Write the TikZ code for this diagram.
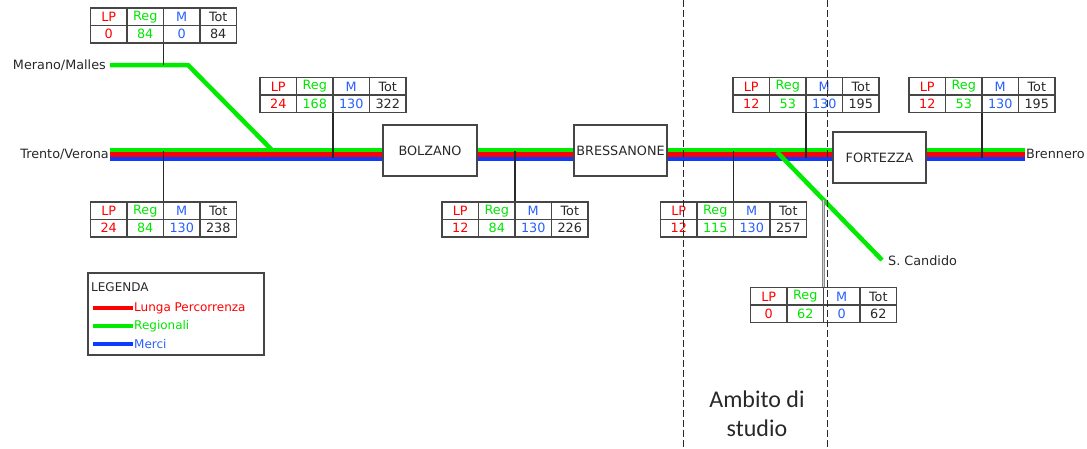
\documentclass[tikz,border=0pt]{standalone}
\usepackage{fontspec}
\setmainfont{DejaVu Sans}
\newfontfamily\calibri{Carlito}
\usetikzlibrary{calc}

\definecolor{lpred}{RGB}{255,0,0}
\definecolor{reggreen}{RGB}{0,230,0}
\definecolor{mblue}{RGB}{40,95,255}
\definecolor{railred}{RGB}{255,0,0}
\definecolor{railgreen}{RGB}{0,235,0}
\definecolor{railblue}{RGB}{10,60,255}
\definecolor{framegray}{RGB}{70,70,70}
\definecolor{inkgray}{RGB}{40,40,40}

\tikzset{
  lbl/.style={font=\fontsize{12.8}{14}\selectfont, text=inkgray, inner sep=1pt},
  cell/.style={font=\fontsize{12.8}{14}\selectfont, inner sep=0pt},
  tabframe/.style={draw=framegray, line width=1.5, minimum width=146, minimum height=35, inner sep=0pt},
  tabgrid/.style={draw=framegray, line width=1.5},
  station/.style={draw=framegray, line width=1.4, minimum height=51, inner sep=0pt,
    font=\fontsize{12.8}{14}\selectfont, text=inkgray},
  tick/.style={draw=inkgray, line width=1.3},
  rail/.style={line width=4.5},
  rg/.style={rail, draw=railgreen},
  rr/.style={rail, draw=railred},
  rb/.style={rail, draw=railblue},
  studyline/.style={draw=inkgray, line width=0.9, dash pattern=on 7pt off 3pt},
  legtext/.style={lbl, anchor=west, font=\fontsize{12}{13}\selectfont},
}

% traffic table: name, centre, LP, Reg, M, Tot
\newcommand\flowtab[6]{%
  \node[tabframe] (#1) at (#2) {};
  \draw[tabgrid] (#1.west) -- (#1.east)
    ($(#1.north)+(-36.5,0)$) -- ($(#1.south)+(-36.5,0)$)
    (#1.north) -- (#1.south)
    ($(#1.north)+(36.5,0)$) -- ($(#1.south)+(36.5,0)$);
  \node[cell,text=lpred]    (#1-hlp)  at ($(#1.center)+(-54.75,-8.5)$) {LP};
  \node[cell,text=reggreen] (#1-hreg) at ($(#1.center)+(-18.25,-8.5)$) {Reg};
  \node[cell,text=mblue]    (#1-hm)   at ($(#1.center)+(18.25,-8.5)$)  {M};
  \node[cell,text=inkgray]  (#1-htot) at ($(#1.center)+(54.75,-8.5)$)  {Tot};
  \node[cell,text=lpred]    (#1-vlp)  at ($(#1.center)+(-54.75,8.5)$)  {#3};
  \node[cell,text=reggreen] (#1-vreg) at ($(#1.center)+(-18.25,8.5)$)  {#4};
  \node[cell,text=mblue]    (#1-vm)   at ($(#1.center)+(18.25,8.5)$)   {#5};
  \node[cell,text=inkgray]  (#1-vtot) at ($(#1.center)+(54.75,8.5)$)   {#6};
}

% three parallel tracks between two points
\newcommand\railrun[2]{%
  \draw[rg] (#1 |- 0,150) -- (#2 |- 0,150);
  \draw[rr] (#1 |- 0,154.5) -- (#2 |- 0,154.5);
  \draw[rb] (#1 |- 0,159) -- (#2 |- 0,159);
}

\begin{document}
\begin{tikzpicture}[x=1pt,y=-1pt]
\useasboundingbox (0,0) rectangle (1087,448);

% stations and end labels
\node[station, minimum width=94] (bolzano) at (430,150.5) {BOLZANO};
\node[station, minimum width=93] (bressanone) at (620.5,150.5) {BRESSANONE};
\node[station, minimum width=93] (fortezza) at (879.5,157.5) {FORTEZZA};
\node[lbl, anchor=east] (trento) at (110,154) {Trento/Verona};
\node[lbl, anchor=west] (brennero) at (1025,154) {Brennero};
\node[lbl, anchor=east] (merano) at (107,65) {Merano/Malles};
\node[lbl, anchor=west] (candido) at (887,261) {S. Candido};

% main line
\railrun{trento.east}{bolzano.west}
\railrun{bolzano.east}{bressanone.west}
\railrun{bressanone.east}{fortezza.west}
\railrun{fortezza.east}{brennero.west}

% branch lines
\coordinate (mbend) at (188,65);
\coordinate (mjunction) at (272,150);
\draw[rg] ([xshift=3]merano.east) -- (mbend) -- (mjunction);
\coordinate (sjunction) at (777,152);
\coordinate (candidoend) at ([xshift=-5,yshift=1]candido.west);
\draw[rg] (sjunction) -- (candidoend);

% traffic tables
\flowtab{t1}{163.5,25.5}{0}{84}{0}{84}
\flowtab{t2}{333,95}{24}{168}{130}{322}
\flowtab{t3}{163.5,219.5}{24}{84}{130}{238}
\flowtab{t4}{515,219.5}{12}{84}{130}{226}
\flowtab{t5}{733.5,219.5}{12}{115}{130}{257}
\flowtab{t6}{806,95}{12}{53}{130}{195}
\flowtab{t7}{982,95}{12}{53}{130}{195}
\flowtab{t8}{823.5,305}{0}{62}{0}{62}

% table connectors
\draw[tick] (t1.south) -- (t1.south |- mbend);
\draw[tick] (t2.south) -- (t2.south |- 0,158);
\draw[tick] (t3.north) -- (t3.north |- 0,151);
\draw[tick] (t4.north) -- (t4.north |- 0,151);
\draw[tick] (t5.north) -- (t5.north |- 0,151);
\draw[tick] (t6.south) -- (t6.south |- 0,158);
\draw[tick] (t7.south) -- (t7.south |- 0,158);
\draw[draw=gray, line width=0.8, double=gray!35, double distance=1.2]
  (intersection of sjunction--candidoend and t8.north--t8.south) -- (t8.north);

% study area
\coordinate (s1top) at (683,0);
\coordinate (s1bot) at (683,448);
\coordinate (s2top) at (827,0);
\coordinate (s2bot) at (827,448);
\draw[studyline] (s1top) -- (s1bot);
\draw[studyline] (s2top) -- (s2bot);
\node[align=center, font=\calibri\fontsize{24}{29}\selectfont, text=inkgray] (ambito) at (757,414) {Ambito di\\studio};

% legend
\node[draw=framegray, line width=1.3, minimum width=176, minimum height=82, inner sep=0pt] (legend) at (176,314) {};
\node[legtext] (legtitle) at (90,287) {LEGENDA};
\node[legtext, text=lpred] (leglp) at (133,308) {Lunga Percorrenza};
\node[legtext, text=reggreen] (legreg) at (133,326) {Regionali};
\node[legtext, text=mblue] (legm) at (133,344) {Merci};
\coordinate (lpstart) at (93,308);
\coordinate (regstart) at (93,326);
\coordinate (mstart) at (93,344);
\draw[rr] (lpstart) -- (leglp.west);
\draw[rg] (regstart) -- (legreg.west);
\draw[rb] (mstart) -- (legm.west);
\end{tikzpicture}
\end{document}
